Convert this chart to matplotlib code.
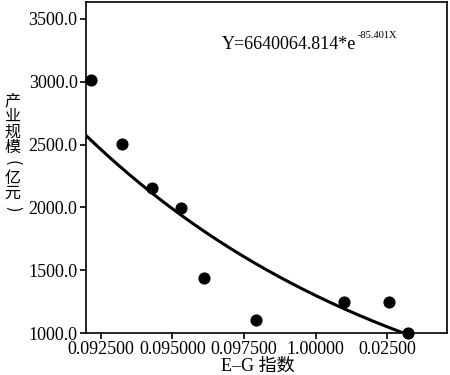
import numpy as np
import matplotlib.pyplot as plt

# data
eg_index = [0.09215, 0.09323, 0.09429, 0.09531, 0.09609, 0.09793, 0.10099, 0.10256, 0.10322]
scale = [3015, 2505, 2157, 1993, 1438, 1103, 1244, 1249, 1002]

# fitted exponential shown on the chart
fit_a = 6640064.814
fit_b = -85.401

x_ticks = [0.0925, 0.095, 0.0975, 0.1, 0.1025]
x_ticklabels = ["0.092500", "0.095000", "0.097500", "1.00000", "0.02500"]
y_ticks = [1000, 1500, 2000, 2500, 3000, 3500]
y_ticklabels = ["1000.0", "1500.0", "2000.0", "2500.0", "3000.0", "3500.0"]
ylabel_chars = ["产", "业", "规", "模", "(", "亿", "元", ")"]

plt.rcParams.update({
    'font.family': ['Liberation Serif', 'Noto Sans CJK SC'],
    'axes.linewidth': 1.2,
})

W, H = 450, 375
fig = plt.figure(figsize=(4.5, 3.75), dpi=100)
ax = fig.add_axes([0.191, 0.112, 0.802, 0.883])

xmin, xmax = 0.09199, 0.10457
ax.set_xlim(xmin, xmax)
ax.set_ylim(1000, 3635)

xs = np.linspace(xmin, xmax, 300)
ax.plot(xs, fit_a * np.exp(fit_b * xs), color='black', linewidth=2.2)
ax.scatter(eg_index, scale, s=60, color='black', zorder=3, clip_on=False)

ax.set_xticks(x_ticks)
ax.set_xticklabels(x_ticklabels)
ax.set_yticks(y_ticks)
ax.set_yticklabels(y_ticklabels)
ax.tick_params(direction='out', length=4, width=1.2, labelsize=13, pad=2)

# equation with a small superscript
eq = ax.text(0.376, 0.87, "Y=6640064.814*e", transform=ax.transAxes,
             fontsize=13, va='center', ha='left')
ax.annotate("-85.401X", xy=(1, 0.78), xycoords=eq, xytext=(1.5, 0),
            textcoords='offset points', fontsize=7.5, va='bottom', ha='left')

# x label
fig.text(258 / W, 1 - 366 / H, "E\u2013G 指数", fontsize=13, ha='center', va='center')

# y label, stacked upright characters (brackets turned on their side)
for i, ch in enumerate(ylabel_chars):
    yc = 101 + i * 15.4
    rot = -90 if ch in "()" else 0
    fig.text(12.5 / W, 1 - yc / H, ch, fontsize=11.5, ha='center', va='center',
             rotation=rot, family=['Noto Sans CJK SC', 'DejaVu Sans'])

plt.savefig("out.png", dpi=100)
plt.close()
